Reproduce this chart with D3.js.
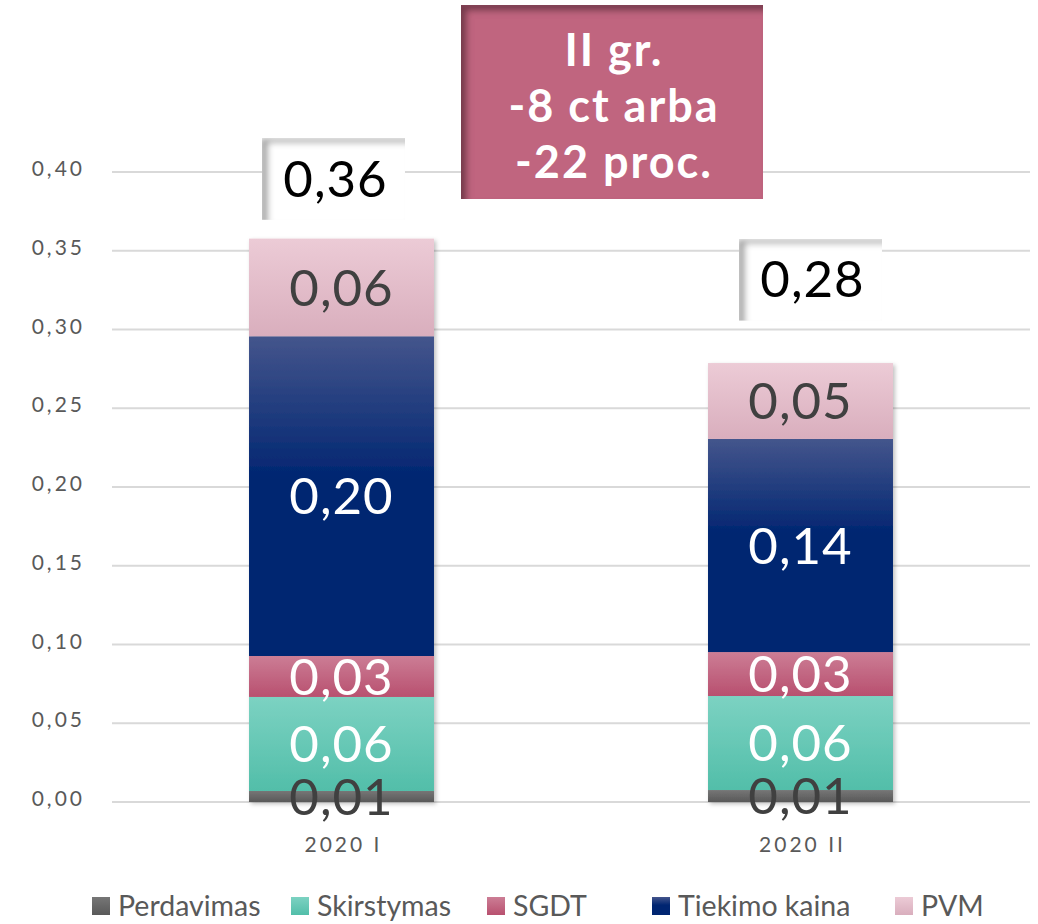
<!DOCTYPE html>
<html>
<head>
<meta charset="utf-8">
<script src="https://cdn.jsdelivr.net/npm/d3@7"></script>
<style>
  body { margin: 0; background: #fff; }
  svg { display: block; font-family: Lato, "Open Sans", sans-serif; }
</style>
</head>
<body>
<div id="chart"></div>
<script>
'use strict';

// data
const categories = ["2020 I", "2020 II"];
const seriesNames = ["Perdavimas", "Skirstymas", "SGDT", "Tiekimo kaina", "PVM"];
const perdavimas = [0.007, 0.0076];
const skirstymas = [0.0597, 0.0597];
const sgdt = [0.026, 0.0279];
const tiekimo = [0.203, 0.1353];
const pvm = [0.062, 0.0482];
const totals = [0.36, 0.28];
const yTicks = [0, 0.05, 0.10, 0.15, 0.20, 0.25, 0.30, 0.35, 0.40];
const noteLines = ["II gr.", "-8 ct arba", "-22 proc."];

const width = 1038, height = 924;
const margin = {top: 172, left: 112, right: 8, bottom: 122};

const colours = {
  "Perdavimas":    ["#767676", "#595959", "#404040"],
  "Skirstymas":    ["#7cd2c2", "#52bea9", "#ffffff"],
  "SGDT":          ["#cc7d95", "#b8506f", "#ffffff"],
  "Tiekimo kaina": ["#44558c", "#002571", "#ffffff"],
  "PVM":           ["#eccbd6", "#d9aebd", "#404040"]
};

const rows = categories.map(function(c, i) {
  return {
    cat: c,
    "Perdavimas": perdavimas[i],
    "Skirstymas": skirstymas[i],
    "SGDT": sgdt[i],
    "Tiekimo kaina": tiekimo[i],
    "PVM": pvm[i]
  };
});

const fmt = function(v) { return d3.format(".2f")(v).replace(".", ","); };

const svg = d3.select("#chart").append("svg")
  .attr("width", width)
  .attr("height", height);

const defs = svg.append("defs");

seriesNames.forEach(function(s, i) {
  const g = defs.append("linearGradient")
    .attr("id", "grad" + i)
    .attr("x1", 0).attr("y1", 0).attr("x2", 0).attr("y2", 1);
  if (s === "Tiekimo kaina") {
    g.append("stop").attr("offset", "0%").attr("stop-color", colours[s][0]);
    g.append("stop").attr("offset", "45%").attr("stop-color", colours[s][1]);
    g.append("stop").attr("offset", "100%").attr("stop-color", colours[s][1]);
  } else {
    g.append("stop").attr("offset", "0%").attr("stop-color", colours[s][0]);
    g.append("stop").attr("offset", "100%").attr("stop-color", colours[s][1]);
  }
});

// soft drop shadow for the bars
const drop = defs.append("filter").attr("id", "drop")
  .attr("x", "-10%").attr("y", "-10%").attr("width", "120%").attr("height", "120%");
drop.append("feDropShadow")
  .attr("dx", 2).attr("dy", 2).attr("stdDeviation", 2)
  .attr("flood-color", "#000").attr("flood-opacity", 0.25);

// inner shadow on the top/left of the boxes
const inset = defs.append("filter").attr("id", "inset")
  .attr("x", "-5%").attr("y", "-5%").attr("width", "110%").attr("height", "110%");
inset.append("feComponentTransfer").attr("in", "SourceAlpha")
  .append("feFuncA").attr("type", "table").attr("tableValues", "1 0");
inset.append("feGaussianBlur").attr("stdDeviation", 3);
inset.append("feOffset").attr("dx", 6).attr("dy", 6).attr("result", "shadow");
inset.append("feFlood").attr("flood-color", "#000").attr("flood-opacity", 0.65);
inset.append("feComposite").attr("in2", "shadow").attr("operator", "in");
inset.append("feComposite").attr("in2", "SourceAlpha").attr("operator", "in").attr("result", "inner");
const merge = inset.append("feMerge");
merge.append("feMergeNode").attr("in", "SourceGraphic");
merge.append("feMergeNode").attr("in", "inner");

const x = d3.scaleBand()
  .domain(categories)
  .range([margin.left, width - margin.right])
  .paddingInner(0.597)
  .paddingOuter(0.2985);

const y = d3.scaleLinear()
  .domain([0, 0.40])
  .range([height - margin.bottom - 0, margin.top]);

/* gridlines */
svg.append("g")
  .selectAll("line")
  .data(yTicks)
  .enter().append("line")
  .attr("x1", margin.left)
  .attr("x2", width - margin.right)
  .attr("y1", function(d) { return y(d); })
  .attr("y2", function(d) { return y(d); })
  .attr("stroke", "#d9d9d9")
  .attr("stroke-width", 2);

/* y axis labels */
svg.append("g")
  .attr("fill", "#595959")
  .attr("font-size", 21)
  .attr("letter-spacing", 3)
  .attr("text-anchor", "end")
  .selectAll("text")
  .data(yTicks)
  .enter().append("text")
  .attr("x", 85)
  .attr("y", function(d) { return y(d); })
  .attr("dy", "0.2em")
  .text(function(d) { return fmt(d); });

/* stacked bars */
const stacked = d3.stack().keys(seriesNames)(rows);

const layers = svg.append("g").attr("filter", "url(#drop)")
  .selectAll("g")
  .data(stacked)
  .enter().append("g")
  .attr("fill", function(d, i) { return "url(#grad" + i + ")"; });

layers.selectAll("rect")
  .data(function(d) { return d; })
  .enter().append("rect")
  .attr("x", function(d) { return x(d.data.cat); })
  .attr("width", x.bandwidth())
  .attr("y", function(d) { return y(d[1]); })
  .attr("height", function(d) { return y(d[0]) - y(d[1]); });

/* segment labels */
const labels = svg.append("g")
  .attr("font-size", 51)
  .attr("letter-spacing", 1)
  .attr("text-anchor", "middle");

stacked.forEach(function(layer) {
  labels.selectAll(null)
    .data(layer)
    .enter().append("text")
    .attr("x", function(d) { return x(d.data.cat) + x.bandwidth() / 2; })
    .attr("y", function(d) { return (y(d[0]) + y(d[1])) / 2; })
    .attr("dy", "0.36em")
    .attr("fill", colours[layer.key][2])
    .text(function(d) { return fmt(d[1] - d[0]); });
});

/* x labels */
svg.append("g")
  .attr("fill", "#595959")
  .attr("font-size", 21)
  .attr("letter-spacing", 3)
  .attr("text-anchor", "middle")
  .selectAll("text")
  .data(categories)
  .enter().append("text")
  .attr("x", function(d) { return x(d) + x.bandwidth() / 2 + 2; })
  .attr("y", 852)
  .text(function(d) { return d; });

/* total boxes */
const boxAnchor = [{dx: -8, v: 0.396}, {dx: 10, v: 0.332}];
const boxW = 143, boxH = 83;

const boxes = svg.append("g")
  .selectAll("g")
  .data(totals)
  .enter().append("g")
  .attr("transform", function(d, i) {
    const cx = x(categories[i]) + x.bandwidth() / 2 + boxAnchor[i].dx;
    const cy = y(boxAnchor[i].v);
    return "translate(" + cx + "," + cy + ")";
  });

boxes.append("rect")
  .attr("x", -boxW / 2).attr("y", -boxH / 2)
  .attr("width", boxW).attr("height", boxH)
  .attr("fill", "#fff")
  .attr("filter", "url(#inset)");

boxes.append("text")
  .attr("text-anchor", "middle")
  .attr("font-size", 51)
  .attr("letter-spacing", 1)
  .attr("dy", "0.36em")
  .attr("x", 2)
  .attr("fill", "#000")
  .text(function(d) { return fmt(d); });

/* note box */
const note = svg.append("g").attr("transform", "translate(461,5)");
note.append("rect")
  .attr("width", 302).attr("height", 194)
  .attr("fill", "#c0657f")
  .attr("filter", "url(#inset)");
note.append("g")
  .attr("fill", "#fff")
  .attr("font-weight", "bold")
  .attr("font-size", 45)
  .attr("letter-spacing", 2)
  .attr("text-anchor", "middle")
  .selectAll("text")
  .data(noteLines)
  .enter().append("text")
  .attr("x", 153)
  .attr("y", function(d, i) { return 61 + i * 56; })
  .text(function(d) { return d; });

/* legend */
const legendX = [92, 291, 487, 652, 895];
const legend = svg.append("g")
  .selectAll("g")
  .data(seriesNames)
  .enter().append("g")
  .attr("transform", function(d, i) { return "translate(" + legendX[i] + ",897)"; });

legend.append("rect")
  .attr("width", 18).attr("height", 18)
  .attr("fill", function(d, i) { return "url(#grad" + i + ")"; });

legend.append("text")
  .attr("x", 26)
  .attr("y", 19)
  .attr("font-size", 28.5)
  .attr("fill", "#595959")
  .text(function(d) { return d; });
</script>
</body>
</html>
